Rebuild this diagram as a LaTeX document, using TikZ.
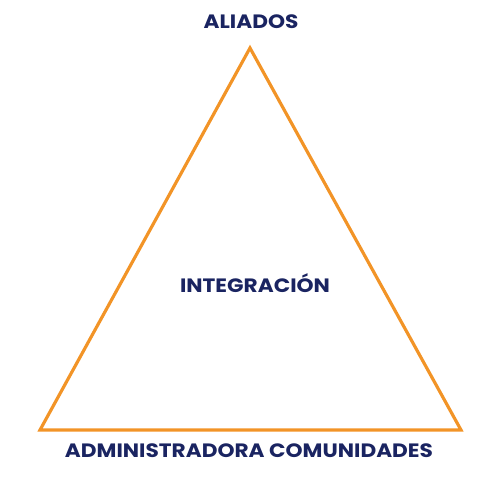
\documentclass[tikz,border=0pt]{standalone}
\usepackage{fontspec}
\setmainfont{Poppins}[FakeStretch=1.12]
\usepackage{xcolor}
\usetikzlibrary{positioning}
\definecolor{navy}{HTML}{1A2461}
\definecolor{accent}{HTML}{F29427}

\begin{document}
\begin{tikzpicture}[
  x=0.03cm, y=-0.03cm,
  label/.style={font=\bfseries\fontsize{16.5}{18}\selectfont, text=navy, inner sep=0pt},
  edge/.style={draw=accent, line width=2.7pt, line join=miter},
]
\useasboundingbox (0,0) rectangle (500,500);

% Corners
\coordinate (top) at (250, 48);
\coordinate (left) at (40, 430);
\coordinate (right) at (461, 430);

% Triangle
\draw[edge] (top) -- (right) -- (left) -- cycle;

% Labels
\node[label] (allies) at (251, 22) {ALIADOS};
\node[label] (center) at (255, 283) {INTEGRACIÓN};
\node[label] (base) at (249, 451) {ADMINISTRADORA COMUNIDADES};
\end{tikzpicture}
\end{document}
